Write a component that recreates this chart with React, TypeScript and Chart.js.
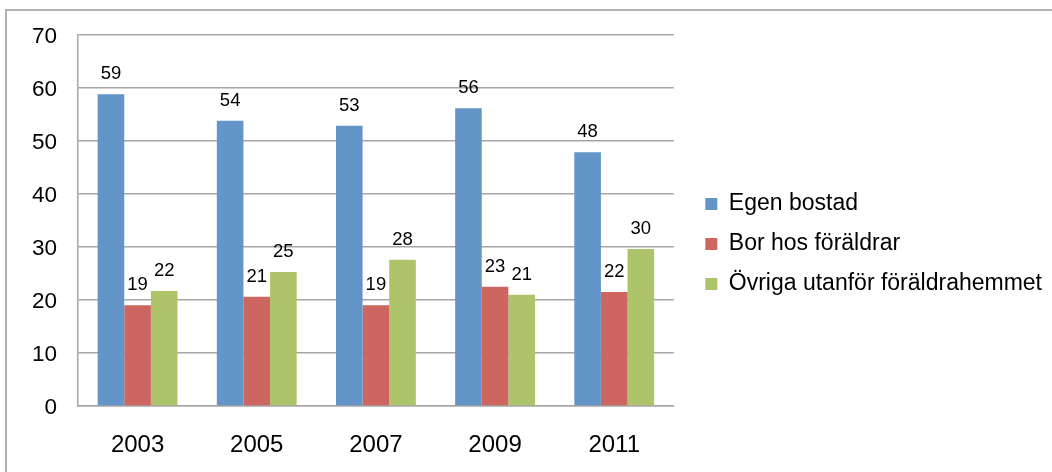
import React, { useEffect, useRef } from "react";
import { Chart, registerables } from "chart.js";

Chart.register(...registerables);

const categories = ["2003", "2005", "2007", "2009", "2011"];
const seriesNames = ["Egen bostad", "Bor hos föräldrar", "Övriga utanför föräldrahemmet"];
const egenBostad = [58.8, 53.8, 52.9, 56.2, 47.9];
const borHosForaldrar = [19.0, 20.6, 19.0, 22.5, 21.5];
const ovrigaUtanfor = [21.7, 25.3, 27.6, 21.0, 29.6];
const seriesColors = ["#6395C9", "#CD6660", "#ADC46B"];
const yTicks = [0, 10, 20, 30, 40, 50, 60, 70];

const FONT = "'Liberation Sans', Arial, sans-serif";

const frame = {
  id: "frame",
  beforeDraw(chart: any) {
    const ctx = chart.ctx;
    ctx.save();
    ctx.fillStyle = "#ffffff";
    ctx.fillRect(0, 0, chart.width, chart.height);
    ctx.strokeStyle = "#9a9a9a";
    ctx.lineWidth = 1.5;
    ctx.strokeRect(6, 10, chart.width + 20, chart.height + 20);
    ctx.restore();
  },
};

const valueLabels = {
  id: "valueLabels",
  afterDatasetsDraw(chart: any) {
    const ctx = chart.ctx;
    ctx.save();
    ctx.fillStyle = "#000000";
    ctx.font = `18.5px ${FONT}`;
    ctx.textAlign = "center";
    ctx.textBaseline = "alphabetic";
    chart.data.datasets.forEach((ds: any, i: number) => {
      const meta = chart.getDatasetMeta(i);
      meta.data.forEach((bar: any, j: number) => {
        const v = ds.data[j];
        ctx.fillText(String(Math.round(v)), bar.x, bar.y - 15);
      });
    });
    ctx.restore();
  },
};

export default function App() {
  const canvasRef = useRef<HTMLCanvasElement | null>(null);

  useEffect(() => {
    const canvas = canvasRef.current;
    if (!canvas) return;
    const chart = new Chart(canvas, {
      type: "bar",
      data: {
        labels: categories,
        datasets: [
          { label: seriesNames[0], data: egenBostad, backgroundColor: seriesColors[0] },
          { label: seriesNames[1], data: borHosForaldrar, backgroundColor: seriesColors[1] },
          { label: seriesNames[2], data: ovrigaUtanfor, backgroundColor: seriesColors[2] },
        ],
      },
      options: {
        responsive: false,
        animation: false,
        layout: { padding: { top: 35, bottom: 19, left: 0, right: 0 } },
        datasets: {
          bar: { barPercentage: 1, categoryPercentage: 0.67 },
        },
        scales: {
          x: {
            grid: { display: false, drawTicks: false },
            border: { display: true, color: "#a6a6a6", width: 1.5 },
            ticks: { color: "#000", font: { family: FONT, size: 24 }, padding: 25 },
            afterFit: (s: any) => {
              s.height = 47;
            },
          },
          y: {
            min: 0,
            max: 70,
            afterBuildTicks: (s: any) => {
              s.ticks = yTicks.map((v) => ({ value: v }));
            },
            grid: { color: "#a6a6a6", lineWidth: 1.5, drawTicks: false },
            border: { display: true, color: "#a6a6a6", width: 1.5 },
            ticks: {
              color: "#000",
              font: { family: FONT, size: 22.5 },
              padding: 21,
              labelOffset: 2,
            },
            afterFit: (s: any) => {
              s.width = 78;
            },
          },
          gap: {
            type: "linear",
            position: "right",
            display: true,
            grid: { display: false, drawTicks: false },
            border: { display: false },
            ticks: { display: false },
            afterFit: (s: any) => {
              s.width = 14.5;
            },
          },
        },
        plugins: {
          legend: {
            position: "right",
            maxWidth: 420,
            labels: {
              boxWidth: 12,
              boxHeight: 12,
              padding: 17,
              color: "#000",
              font: { family: FONT, size: 23 },
            },
          },
          tooltip: { enabled: false },
        },
      } as any,
      plugins: [frame, valueLabels],
    });
    return () => chart.destroy();
  }, []);

  return (
    <div style={{ position: "fixed", left: 0, top: 0, width: 1052, height: 472 }}>
      <canvas ref={canvasRef} width={1052} height={472} style={{ display: "block" }} />
    </div>
  );
}
